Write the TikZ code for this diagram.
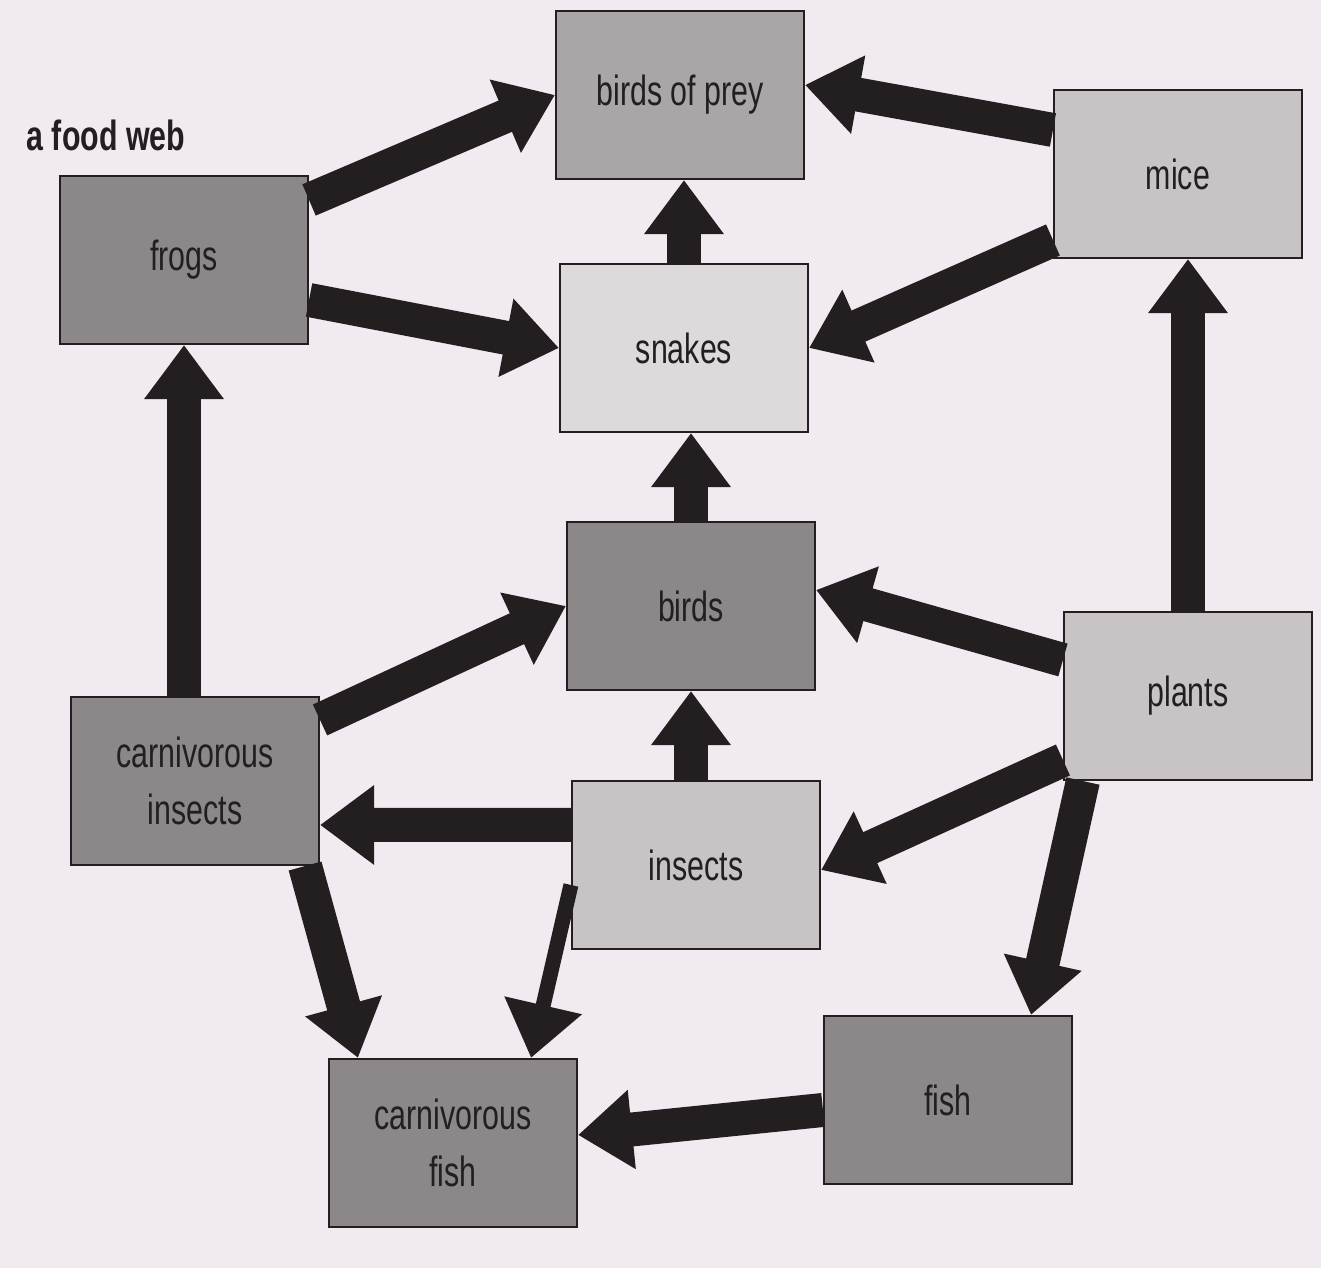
\documentclass[tikz,border=0pt]{standalone}
\usepackage{fontspec}
\setsansfont{Liberation Sans}[FakeStretch=0.72]
\usetikzlibrary{arrows.meta}
\definecolor{paper}{RGB}{241,235,241}
\definecolor{darkgrey}{RGB}{140,136,138}
\definecolor{midgrey}{RGB}{170,166,168}
\definecolor{lightgrey}{RGB}{200,196,198}
\definecolor{palegrey}{RGB}{222,218,220}
\definecolor{ink}{RGB}{35,30,32}

\begin{document}
\begin{tikzpicture}[
    animal/.style={rectangle, draw=ink, line width=0.6pt, text=ink, minimum width=2.48cm, minimum height=1.68cm, align=center, font=\sffamily\fontsize{12}{16}\selectfont},
    darkbox/.style={animal, fill=darkgrey},
    midbox/.style={animal, fill=midgrey},
    lightbox/.style={animal, fill=lightgrey},
    palebox/.style={animal, fill=palegrey},
    every edge/.style={draw=ink, line width=3.4mm, -{Triangle[width=7.6mm,length=5.4mm]}},
    thinarrow/.style={line width=1.5mm}
]

% paper
\fill[paper] (0,0) rectangle (13.21,12.68);

\node[anchor=west, inner sep=0pt, text=ink, font=\sffamily\bfseries\fontsize{12}{14}\selectfont] (title) at (0.26, 11.33) {a food web};

\node[midbox] (bop) at (6.80, 11.73) {birds of prey};
\node[lightbox] (mice) at (11.78, 10.94) {mice};
\node[darkbox] (frogs) at (1.84, 10.08) {frogs};
\node[palebox] (snakes) at (6.84, 9.20) {snakes};
\node[darkbox] (birds) at (6.91, 6.62) {birds};
\node[lightbox] (plants) at (11.88, 5.72) {plants};
\node[darkbox] (cinsects) at (1.95, 4.87) {carnivorous\\insects};
\node[lightbox] (insects) at (6.96, 4.03) {insects};
\node[darkbox] (fish) at (9.48, 1.68) {fish};
\node[darkbox] (cfish) at (4.53, 1.25) {carnivorous\\fish};

% Connections
\path ([yshift=6mm]frogs.east) edge (bop.west);
\path ([yshift=-4mm]frogs.east) edge (snakes.west);
\path ([yshift=4.4mm]mice.west) edge ([yshift=1mm]bop.east);
\path ([yshift=-6.6mm]mice.west) edge (snakes.east);
\path (snakes.north) edge (snakes.north |- bop.south);
\path (birds.north) edge (birds.north |- snakes.south);
\path (plants.north) edge (plants.north |- mice.south);
\path ([yshift=3.6mm]plants.west) edge ([yshift=1.6mm]birds.east);
\path ([yshift=-6.4mm]plants.west) edge ([yshift=-0.5mm]insects.east);
\path ([xshift=2mm]plants.south west) edge ([xshift=-4.2mm]fish.north east);
\path (frogs.south |- cinsects.north) edge (frogs.south);
\path ([yshift=6.1mm]cinsects.east) edge (birds.west);
\path ([yshift=4mm]insects.west) edge ([yshift=-4.4mm]cinsects.east);
\path (birds.south |- insects.north) edge (birds.south);
\path ([yshift=-2mm]insects.west) edge[thinarrow] ([xshift=-4.7mm]cfish.north east);
\path ([xshift=-1.5mm]cinsects.south east) edge ([xshift=3mm]cfish.north west);
\path ([yshift=-1mm]fish.west) edge ([yshift=0.8mm]cfish.east);

\end{tikzpicture}
\end{document}
